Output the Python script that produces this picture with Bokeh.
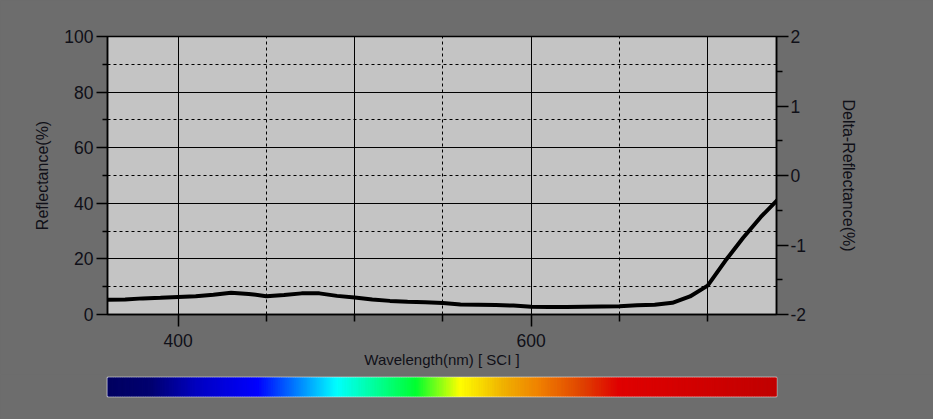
import numpy as np
from bokeh.plotting import figure
from bokeh.models import Range1d, LinearAxis, FixedTicker, Grid
from bokeh.layouts import column
from bokeh.embed import file_html
from bokeh.resources import INLINE

# ---- data ----
wavelength = [360, 370, 380, 390, 400, 410, 420, 430, 440, 450, 460, 470, 480,
              490, 500, 510, 520, 530, 540, 550, 560, 570, 580, 590, 600, 610,
              620, 630, 640, 650, 660, 670, 680, 690, 700, 710, 720, 730, 740]
reflectance = [5.3, 5.4, 5.8, 6.0, 6.3, 6.6, 7.1, 7.8, 7.4, 6.6, 7.0, 7.6, 7.6,
               6.7, 6.1, 5.4, 4.9, 4.6, 4.4, 4.1, 3.6, 3.5, 3.4, 3.2, 2.8, 2.7,
               2.7, 2.8, 2.9, 3.0, 3.3, 3.5, 4.2, 6.5, 10.4, 19.3, 27.5, 35.0, 41.5]

x_ticks_labeled = [400, 600]
x_ticks_minor = [450, 500, 550, 650, 700]
x_grid_solid = [400, 500, 600, 700]
x_grid_dashed = [450, 550, 650]
y_ticks = [0, 20, 40, 60, 80, 100]
y_minor = [10, 30, 50, 70, 90]
delta_ticks = [-2, -1, 0, 1, 2]
delta_minor = [-1.5, -0.5, 0.5, 1.5]

spectrum_wl = [360, 385, 410, 445, 490, 535, 560, 585, 605, 630, 650, 700, 740]
spectrum_colors = ["#000060", "#000070", "#0000c0", "#0000ff", "#00ffff", "#00ff30",
                   "#ffff00", "#f0b000", "#f08000", "#e04000", "#e00000", "#d00000",
                   "#c00000"]

BG = "#6d6d6d"
PLOT_BG = "#c4c4c4"
TXT = "#101018"
FONT = "Liberation Sans"

p = figure(width=933, height=374, x_range=Range1d(360, 739), y_range=Range1d(0, 100),
           output_backend="svg", toolbar_location=None,
           min_border_left=107, min_border_right=157, min_border_top=36, min_border_bottom=60,
           background_fill_color=PLOT_BG, border_fill_color=BG,
           outline_line_color="black", outline_line_width=1.5)
p.extra_y_ranges = {"delta": Range1d(-2, 2)}

p.xgrid.visible = False
p.ygrid.visible = False
for dim, ticks, dash in [(0, x_grid_solid, "solid"), (0, x_grid_dashed, "3 3"),
                         (1, y_ticks, "solid"), (1, y_minor, "3 3")]:
    p.add_layout(Grid(dimension=dim, ticker=FixedTicker(ticks=ticks),
                      grid_line_color="black", grid_line_width=1,
                      grid_line_dash=dash))

# x axis
xa = p.xaxis[0]
xa.ticker = FixedTicker(ticks=x_ticks_labeled, minor_ticks=x_ticks_minor)
xa.axis_label = "Wavelength(nm) [ SCI ]"
xa.major_tick_out = 12
xa.major_tick_in = 0
xa.minor_tick_out = 7
xa.minor_tick_in = 0
xa.major_label_standoff = 7
xa.axis_label_standoff = 1

# left axis
ya = p.yaxis[0]
ya.ticker = FixedTicker(ticks=y_ticks, minor_ticks=y_minor)
ya.axis_label = "Reflectance(%)"
ya.major_tick_out = 11
ya.major_tick_in = 0
ya.minor_tick_out = 5
ya.minor_tick_in = 0
ya.major_label_standoff = 3
ya.axis_label_standoff = 10

# right axis
ra = LinearAxis(y_range_name="delta",
                ticker=FixedTicker(ticks=delta_ticks, minor_ticks=delta_minor),
                axis_label="Delta-Reflectance(%)",
                major_label_overrides={t: str(t) for t in delta_ticks})
ra.major_tick_out = 12
ra.major_tick_in = 0
ra.minor_tick_out = 6
ra.minor_tick_in = 0
ra.major_label_standoff = 2
ra.axis_label_standoff = 31
p.add_layout(ra, "right")

for ax in [xa, ya, ra]:
    ax.axis_line_color = "black"
    ax.axis_line_width = 1.5
    ax.major_tick_line_color = "black"
    ax.major_tick_line_width = 1.5
    ax.minor_tick_line_color = "black"
    ax.minor_tick_line_width = 1.5
    ax.major_label_text_font = FONT
    ax.major_label_text_font_size = "17.5px"
    ax.major_label_text_color = TXT
    ax.axis_label_text_font = FONT
    ax.axis_label_text_font_style = "normal"
    ax.axis_label_text_font_size = "16px"
    ax.axis_label_text_color = TXT
xa.axis_label_text_font_size = "15px"

p.line(wavelength, reflectance, line_color="black", line_width=4)

# ---- spectrum colour bar ----
def hex_rgb(h):
    return [int(h[i:i + 2], 16) for i in (1, 3, 5)]

stops = np.array([hex_rgb(c) for c in spectrum_colors], dtype=float)
edges = np.arange(360, 740, 1.0)
mids = edges + 0.5
cols = []
for m in mids:
    r, g, b = (int(round(np.interp(m, spectrum_wl, stops[:, k]))) for k in range(3))
    cols.append("#%02x%02x%02x" % (r, g, b))

p2 = figure(width=933, height=45, x_range=p.x_range, y_range=Range1d(0, 1),
            output_backend="svg", toolbar_location=None,
            x_axis_type=None, y_axis_type=None,
            min_border_left=107, min_border_right=157, min_border_top=3, min_border_bottom=23,
            background_fill_color=BG, border_fill_color=BG,
            outline_line_color="#f4f4f4", outline_line_width=1.5)
p2.quad(left=edges, right=edges + 1.0, bottom=0, top=1, fill_color=cols, line_color=cols)

layout = column(p, p2, spacing=0, styles={"background-color": BG})
open("out.html", "w").write(file_html(layout, INLINE))
